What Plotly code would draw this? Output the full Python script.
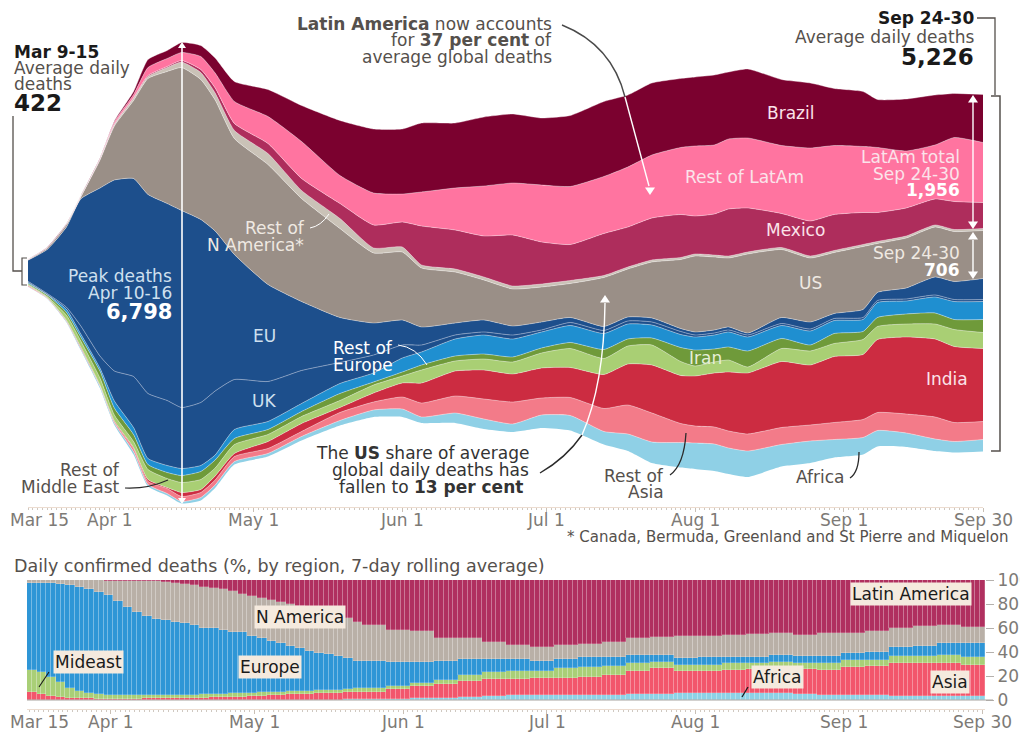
import datetime as dt
import numpy as np
import plotly.graph_objects as go

W, H = 1020, 736
START = dt.date(2020, 3, 15)

# ---------- DATA: upper chart, average daily deaths ----------
day_offsets = [0,4,8,11,15,18,22,25,29,32,36,39,43,50,57,65,72,78,82,89,95,101,107,113,120,125,130,136,139,143,146,150,157,163,168,174,177,183,189,193,199]
africa = [5,8,15,23,30,30,45,30,30,30,45,45,45,45,60,75,105,120,90,150,150,120,195,225,195,255,315,375,390,405,390,390,330,330,270,255,240,210,180,165,180]
rest_asia = [15,8,8,8,8,15,45,45,75,75,75,75,75,75,75,120,120,180,210,255,300,330,255,270,345,435,435,285,255,255,255,255,255,240,255,270,270,285,330,285,270]
india = [3,3,8,15,8,15,15,30,15,60,45,60,45,105,120,75,135,210,300,375,435,420,450,450,510,615,720,720,750,810,885,915,990,900,990,975,1095,1155,1170,1140,1095]
rest_mideast = [15,15,75,90,105,90,90,150,135,150,150,120,135,105,105,105,120,105,195,150,165,180,225,285,240,270,300,210,150,165,180,90,195,210,195,225,195,195,225,255,240]
iran = [15,23,45,60,105,105,105,75,90,105,120,120,90,75,75,105,45,60,75,75,75,75,75,90,135,105,105,210,240,195,195,240,150,90,150,120,135,150,165,150,195]
rest_europe = [15,8,45,45,45,105,105,90,105,105,90,75,135,120,120,150,135,210,195,255,285,270,240,255,240,225,195,195,195,210,225,210,195,210,195,180,225,195,240,270,270]
uk = [15,15,30,120,180,450,765,975,975,915,945,960,750,600,495,315,270,195,105,60,45,60,30,45,45,45,45,45,30,30,30,30,30,30,30,30,30,30,30,30,30]
eu = [315,660,1200,1905,2520,2865,2970,2985,2955,2955,2745,2400,1875,1455,1035,675,480,375,270,180,180,135,120,75,60,60,60,45,45,45,45,30,90,105,75,120,120,165,270,270,315]
us = [8,23,38,30,420,810,1170,1740,1980,2145,2100,1965,1740,1800,1545,1335,1050,1020,885,765,600,555,525,510,735,720,840,1035,1140,1095,1035,1185,1020,960,915,945,735,750,750,750,720]
rest_n_america = [3,3,3,5,15,23,38,30,60,83,105,105,120,165,120,150,75,75,45,45,45,45,45,45,30,30,30,30,30,30,30,30,30,30,30,30,30,30,30,30,30]
mexico = [2,2,2,2,3,8,8,15,15,23,45,75,105,150,180,225,345,375,585,585,615,765,630,540,630,600,630,645,570,615,705,660,510,525,540,480,435,420,390,420,390]
rest_latam = [2,2,2,2,10,30,45,120,120,120,195,225,330,405,555,420,480,420,510,630,750,780,855,870,855,900,945,1005,1050,1035,1050,1050,1020,1095,1035,990,975,855,810,960,900]
brazil = [2,5,5,5,5,15,45,120,120,150,165,225,300,405,540,825,960,975,1035,975,1035,1035,1005,1065,1125,1080,1080,1035,1035,1050,1005,1035,990,975,855,825,720,780,750,660,720]

stream_names = ["Africa","Rest of Asia","India","Rest of Middle East","Iran","Rest of Europe","UK","EU","US","Rest of N America","Mexico","Rest of LatAm","Brazil"]
stream_values = [africa,rest_asia,india,rest_mideast,iran,rest_europe,uk,eu,us,rest_n_america,mexico,rest_latam,brazil]
stream_colors = ["#8fd0e6","#f37b89","#cc2c41","#a9cf74","#6f9a3a","#1f8fd0","#1d4f8c","#1d4f8c","#9a8f87","#cac2b7","#ae2d5c","#ff74a0","#7b012f"]

# ---------- DATA: lower chart, share of deaths (%), read every 2 days to day 70, then every 5 days ----------
step_days = [2]*35 + [5]*26
share_africa = [0]*32 + [.3,.5,.5, .5,1,1.5,2,2.5,3,4,4,4,4,4.5,5,5,5.5,5.5,6,5.5,5.5,5,4.5,4,4,3.5,3,3,3]
share_asia = [6.9,4.7,3.3,2.5,1.9,1.7,1.4,1.1,1.1,1.1,1.1,1.1,1.3,1.4,1.4,1.4,1.7,1.7,1.9,2.2,2.4,2.6,2.8,3.2,3.6,3.9,4.3,4.7,5,5.3,5.6,5.8,5.7,5.8,6.1,
              6.4,7.9,10.2,11.3,13.6,14.8,13.5,14.1,14.1,15.4,16.3,19.2,21.4,18.9,18.9,19,20.1,19.5,20.6,20.5,23.8,24.3,27.1,28.1,28.1,25.9]
share_mideast = [18.1,18.3,16.1,12.2,8.4,5.8,4.4,3.6,3.1,2.8,2.8,2.8,2.7,2.8,2.8,2.8,2.6,2.7,3.1,3,3,3.1,3.2,3,2.8,2.8,2.6,2.4,2.4,2.4,2.4,2.5,2.6,2.7,3,
                 3.4,2.8,2.7,3.4,4.7,5.8,6.7,6.3,8.3,8.4,7.5,6.9,5.5,4.8,4.8,5.6,5.5,6.9,5,6.1,5.5,5,6.1,5.6,6.4,7.2]
share_europe = [72.8,74.5,77.8,82,85.8,86.9,87,85.6,83,78.3,73.6,69.2,66.3,63.3,62.2,61.1,59.6,58.1,55.3,54.5,52.9,51.2,50.4,47.1,45,42.5,40.3,38.2,35.7,33.1,31.4,29.7,28.1,25.7,23.2,
                22.5,20.2,17.5,16.1,13.1,10.8,9.7,8.4,7.5,7.8,7.3,6.4,5.6,5.5,6.4,5.5,5,5.6,6.1,5.8,5.6,7,7.7,8.3,10.3,11.1]
share_n_america = [2.2,2.5,2.8,3.3,3.8,5.4,6.9,9.3,12.3,17.2,21.9,26.1,28.7,31.4,32.1,31.9,32.5,33.3,34.1,33.9,33.9,34.2,31.7,33.4,33.3,34.1,34.2,34.5,35.5,36.4,37,36.2,34.7,33.4,31.9,
                   29.7,26.4,25.9,19.1,17.5,14.2,11.9,11.6,11.9,11.1,13,13.9,15.3,18.6,17.7,18.1,18.9,18.6,17.5,18.7,16.7,17.5,15.3,16.9,14.7,13.4]
share_latam = [0,0,0,0,.1,.2,.3,.4,.5,.6,.6,.8,1,1.1,1.5,2.8,3.6,4.2,5.6,6.4,7.8,8.9,11.9,13.3,15.3,16.7,18.6,20.2,21.4,22.8,23.6,25.8,28.6,31.9,35.3,
               37.5,41.7,42.2,48.1,48.6,51.4,54.2,55.6,54.2,53.3,51.4,48.6,47.2,46.7,46.7,45.8,45,43.9,45.8,44.4,44.4,42.2,40.3,38.1,37.5,39.4]
share_names = ["Africa","Asia","Mideast","Europe","N America","Latin America"]
share_values = [share_africa,share_asia,share_mideast,share_europe,share_n_america,share_latam]
share_colors = ["#8fd2e6","#f2566c","#a9cf77","#2f96d6","#b9b0a7","#b0305f"]

tick_dates = ["2020-04-01","2020-05-01","2020-06-01","2020-07-01","2020-08-01","2020-09-01","2020-09-30"]
tick_labels = ["Apr 1","May 1","Jun 1","Jul 1","Aug 1","Sep 1","Sep 30"]

# ---------- helpers ----------
FONT = "DejaVu Sans"
GREY, DARK, AXIS = "#55504c", "#1a1a1a", "#7d7a76"
TXT = 17
def fx(px): return px / W
def fy(py): return 1 - py / H
def path(*pts):
    out = []
    for cmd, *xy in pts:
        nums = [f"{fx(v) if i % 2 == 0 else fy(v):.5f}" for i, v in enumerate(xy)]
        out.append(cmd + " " + " ".join(nums))
    return " ".join(out)

annotations, shapes = [], []
def note(x, y, text, anchor="center", size=TXT, color=GREY, bg=None, pad=0):
    annotations.append(dict(xref="paper", yref="paper", x=fx(x), y=fy(y), text=text, showarrow=False,
        xanchor=anchor, yanchor="middle", align=anchor if anchor != "center" else "center",
        font=dict(family=FONT, size=size, color=color), bgcolor=bg, borderpad=pad))
def date_label(axis, date, y, text):
    annotations.append(dict(xref=axis, yref="paper", x=date, y=fy(y), text=text, showarrow=False,
        xanchor="center", yanchor="middle", font=dict(family=FONT, size=TXT, color=AXIS)))
def stroke(d, color=GREY, width=1.3):
    shapes.append(dict(type="path", xref="paper", yref="paper", path=d, line=dict(color=color, width=width)))
def head(x, y, direction, size=6):
    s = size
    dy = s * 1.5 * (1 if direction == "up" else -1)
    d = path(("M", x, y), ("L", x - s, y + dy), ("L", x + s, y + dy)) + " Z"
    shapes.append(dict(type="path", xref="paper", yref="paper", path=d, fillcolor="white", line=dict(width=0)))

# ---------- traces ----------
fig = go.Figure()
stream_dates = [START + dt.timedelta(days=d) for d in day_offsets]
baseline = -np.sum(np.array(stream_values, dtype=float), axis=0) / 2
fig.add_trace(go.Scatter(x=stream_dates, y=baseline, stackgroup="s", mode="lines", line=dict(width=0, shape="spline", smoothing=0.5),
                         fillcolor="rgba(0,0,0,0)", showlegend=False, hoverinfo="skip"))
for name, vals, col in zip(stream_names, stream_values, stream_colors):
    lc = "rgba(150,170,200,0.9)" if name == "UK" else "rgba(255,255,255,0.45)"
    fig.add_trace(go.Scatter(x=stream_dates, y=vals, name=name, stackgroup="s", mode="lines", fillcolor=col,
                             line=dict(color=lc, width=0.8, shape="spline", smoothing=0.5), showlegend=False))

bar_dates = [START + dt.timedelta(days=i) for i in range(sum(step_days))]
for name, vals, col in zip(share_names, share_values, share_colors):
    fig.add_trace(go.Bar(x=bar_dates, y=np.repeat(vals, step_days), name=name,
                         marker=dict(color=col, line=dict(width=0.6, color="rgba(255,255,255,0.32)")),
                         xaxis="x2", yaxis="y2", showlegend=False))

# ---------- text: upper chart ----------
note(13, 52, "<b>Mar 9-15</b>", "left", TXT, DARK)
note(13, 68, "Average daily", "left"); note(13, 84, "deaths", "left")
note(13, 103, "<b>422</b>", "left", 23, DARK)
note(553, 24, "<b>Latin America</b> now accounts", "right")
note(553, 40, "for <b>37 per cent</b> of", "right")
note(553, 57, "average global deaths", "right")
note(975, 18, "<b>Sep 24-30</b>", "right", TXT, DARK)
note(975, 37, "Average daily deaths", "right")
note(975, 57, "<b>5,226</b>", "right", 23, DARK)
PALE, PINK = "#cfe0ef", "#fbe3ea"
note(173, 276, "Peak deaths", "right", TXT, PALE)
note(173, 293, "Apr 10-16", "right", TXT, PALE)
note(173, 312, "<b>6,798</b>", "right", 21, "white")
note(264, 336, "EU", color=PALE); note(264, 401, "UK", color=PALE)
note(306, 228, "Rest of", "right", TXT, "#efe9e2"); note(305, 245, "N America*", "right", TXT, "#efe9e2")
note(394, 348, "Rest of", "right", TXT, "white"); note(394, 365, "Europe", "right", TXT, "white")
note(790, 113, "Brazil", color=PINK)
note(744, 177, "Rest of LatAm", color=PINK)
note(795, 230, "Mexico", color=PINK)
note(810, 283, "US", color="#efe9e2")
note(961, 157, "LatAm total", "right", TXT, PINK); note(961, 174, "Sep 24-30", "right", TXT, PINK)
note(961, 190, "<b>1,956</b>", "right", TXT, "white")
note(961, 253, "Sep 24-30", "right", TXT, "#efe9e2"); note(961, 270, "<b>706</b>", "right", TXT, "white")
note(705, 358, "Iran", color="#e6efd8")
note(947, 379, "India", color=PINK)
note(820, 477, "Africa")
note(665, 476, "Rest of", "right"); note(665, 492, "Asia", "right")
note(121, 470, "Rest of", "right"); note(121, 487, "Middle East", "right")
note(530, 453, "The <b>US</b> share of average", "right", TXT, "#333333")
note(530, 470, "global daily deaths has", "right", TXT, "#333333")
note(524, 487, "fallen to <b>13 per cent</b>", "right", TXT, "#333333")
note(566, 537, "* Canada, Bermuda, Greenland and St Pierre and Miquelon", "left", 15)
note(13, 566, "Daily confirmed deaths (%, by region, 7-day rolling average)", "left", 17.5)
note(9, 520, "Mar 15", "left", TXT, AXIS)
note(9, 722, "Mar 15", "left", TXT, AXIS)
for d, t in zip(tick_dates, tick_labels):
    date_label("x", d, 520, t)
    date_label("x2", d, 722, t)

# ---------- text: lower chart labels ----------
LABEL_BG = "#f5eade"
note(300, 617, "N America", size=TXT, color=DARK, bg=LABEL_BG, pad=1)
note(88, 662, "Mideast", size=TXT, color=DARK, bg=LABEL_BG, pad=1)
note(270, 667, "Europe", size=TXT, color=DARK, bg=LABEL_BG, pad=1)
note(911, 594, "Latin America", size=TXT, color=DARK, bg=LABEL_BG, pad=1)
note(777, 677, "Africa", size=TXT, color=DARK, bg=LABEL_BG, pad=1)
note(950, 682, "Asia", size=TXT, color=DARK, bg=LABEL_BG, pad=1)

# ---------- leaders, brackets, arrows ----------
stroke(path(("M", 13, 116), ("L", 13, 271), ("L", 22, 271)), GREY, 1.3)
stroke(path(("M", 27, 258), ("L", 22, 258), ("L", 22, 285), ("L", 27, 285)), GREY, 1.2)
stroke(path(("M", 977, 18), ("L", 995, 18), ("L", 995, 95)), GREY, 1.3)
stroke(path(("M", 991, 96), ("L", 1000, 96), ("L", 1000, 451), ("L", 991, 451)), GREY, 1.5)
stroke(path(("M", 562, 25), ("Q", 612, 45, 625, 97)), "#4a4a4a", 1.4)
stroke(path(("M", 625, 97), ("L", 649, 186)), "white", 1.4); head(650, 195, "down", 5)
stroke(path(("M", 540, 473), ("Q", 566, 458, 582, 435)), "#2a2a2a", 1.4)
stroke(path(("M", 582, 435), ("Q", 604, 385, 605, 303)), "white", 1.4); head(605, 295, "up", 5)
stroke(path(("M", 182, 47), ("L", 182, 498)), "white", 1.6); head(182, 42, "up", 4); head(182, 504, "down", 4)
stroke(path(("M", 973, 100), ("L", 973, 225)), "white", 1.4); head(973, 95, "up", 5); head(973, 229, "down", 5)
stroke(path(("M", 973, 240), ("L", 973, 272)), "white", 1.4); head(973, 232, "up", 5); head(973, 279, "down", 5)
stroke(path(("M", 125, 488), ("Q", 148, 489, 168, 480)), "#2a2a2a", 1.2)
stroke(path(("M", 310, 228), ("Q", 321, 226, 329, 214)), "white", 1)
stroke(path(("M", 398, 345), ("Q", 416, 347, 427, 365)), "white", 1)
stroke(path(("M", 686, 433), ("Q", 684, 465, 670, 475)), "#2a2a2a", 1.3)
stroke(path(("M", 859, 452), ("Q", 859, 472, 850, 478)), "#2a2a2a", 1.3)
stroke(path(("M", 49, 672), ("L", 39, 687)), "#1a1a1a", 1.1)
stroke(path(("M", 748, 687), ("L", 742, 697)), "#1a1a1a", 1.3)
stroke(path(("M", 27, 700), ("L", 993, 700)), "#a8a4a0", 1)

# ---------- axes ----------
def time_axis(domain, pos, rng):
    return dict(type="date", domain=domain, anchor="free", position=pos, range=rng,
                tickmode="array", tickvals=tick_dates, ticktext=tick_labels, showticklabels=False,
                ticks="outside", ticklen=4, tickcolor="#c9c0b6",
                showline=True, linecolor="#ecdcd0", linewidth=1, showgrid=False, zeroline=False,
                minor=dict(ticks="outside", dtick=86400000, tick0="2020-03-15", ticklen=2, tickcolor="#cfc8c0", showgrid=False))

fig.update_layout(
    width=W, height=H, margin=dict(l=0, r=0, t=0, b=0, autoexpand=False), paper_bgcolor="white", plot_bgcolor="rgba(0,0,0,0)",
    showlegend=False, barmode="stack", bargap=0,
    font=dict(family=FONT),
    xaxis=time_axis([fx(28), fx(983)], fy(507), ["2020-03-15", "2020-09-30"]),
    yaxis=dict(domain=[fy(507), 1], range=[(273 - 507) * 15, 273 * 15], visible=False),
    xaxis2=time_axis([fx(27), fx(985)], fy(709), ["2020-03-14 12:00", "2020-09-30 12:00"]),
    yaxis2=dict(domain=[fy(700), fy(580)], range=[0, 100], side="right", anchor="x2", tickvals=[0, 20, 40, 60, 80, 100],
                ticks="outside", ticklen=8, tickcolor="#b5b1ad", showgrid=False, zeroline=False, showline=False,
                tickfont=dict(family=FONT, size=TXT, color=AXIS)),
    annotations=annotations, shapes=shapes,
)
fig.write_html("out.html", config=dict(displayModeBar=False),
               post_script="document.body.style.margin='0';document.body.style.overflow='hidden';")
